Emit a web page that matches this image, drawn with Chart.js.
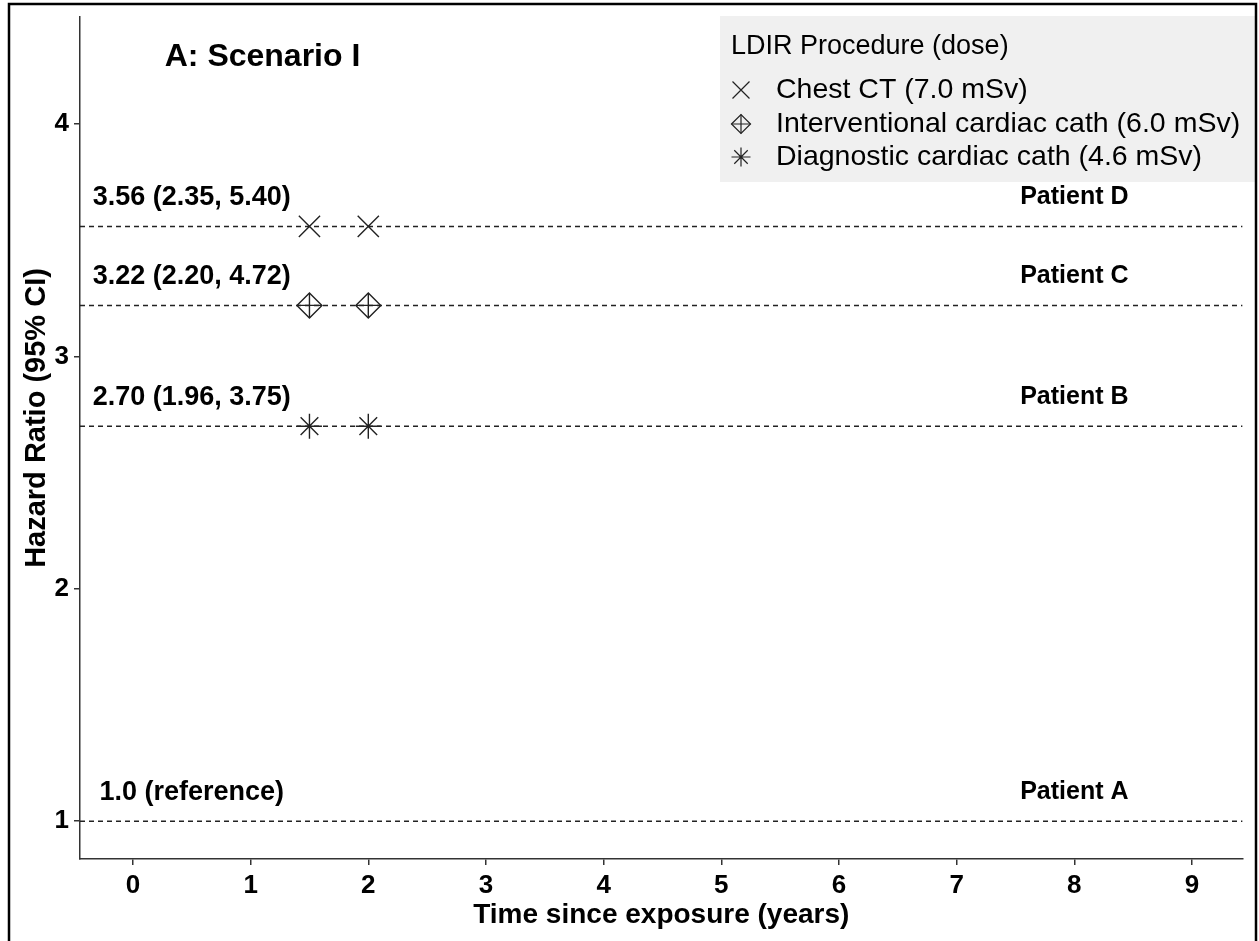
<!DOCTYPE html>
<html>
<head>
<meta charset="utf-8">
<script src="https://cdn.jsdelivr.net/npm/chart.js@4.4.1/dist/chart.umd.min.js"></script>
<style>
  html, body { margin: 0; padding: 0; background: #fff; }
  #wrap { width: 1259px; height: 941px; position: relative; }
</style>
</head>
<body>
<div id="wrap"><canvas id="hr-chart"></canvas></div>
<script>
// data
var exposureTimes = [1.5, 2.0];
var patients = ["Patient A", "Patient B", "Patient C", "Patient D"];
var hazardRatios = [1.0, 2.70, 3.22, 3.56];
var ciLabels = ["1.0 (reference)", "2.70 (1.96, 3.75)", "3.22 (2.20, 4.72)", "3.56 (2.35, 5.40)"];
var procedures = ["Chest CT (7.0 mSv)", "Interventional cardiac cath (6.0 mSv)", "Diagnostic cardiac cath (4.6 mSv)"];
var procedurePatient = [3, 2, 1]; // index into patients for each procedure
var xTicks = [0, 1, 2, 3, 4, 5, 6, 7, 8, 9];
var yTicks = [1, 2, 3, 4];
var xRange = [-0.45, 9.43];
var yRange = [0.837, 4.464];

var FONT = "'Liberation Sans', Arial, sans-serif";
Chart.defaults.font.family = FONT;
Chart.defaults.color = "#000";

var ink = "#222";
var markerStyles = [["crossRot"], ["rectRot", "cross"], ["star"]];
var markerRadius = { crossRot: 15, rectRot: 12.5, cross: 12.5, star: 12.5 };
var legendRadius = { crossRot: 12, rectRot: 9.5, cross: 9.5, star: 9.5 };

var datasets = [];
procedures.forEach(function (name, i) {
  var hr = hazardRatios[procedurePatient[i]];
  markerStyles[i].forEach(function (style) {
    datasets.push({
      type: "scatter",
      label: name,
      data: exposureTimes.map(function (t) { return { x: t, y: hr }; }),
      pointStyle: style,
      pointRadius: markerRadius[style],
      pointHoverRadius: markerRadius[style],
      borderColor: ink,
      backgroundColor: "rgba(0,0,0,0)",
      pointBorderWidth: 1.4,
      showLine: false
    });
  });
});
hazardRatios.forEach(function (hr, i) {
  datasets.push({
    type: "line",
    label: patients[i],
    data: [{ x: xRange[0], y: hr }, { x: xRange[1], y: hr }],
    borderColor: ink,
    borderWidth: 1.5,
    borderDash: [5, 4],
    pointRadius: 0,
    fill: false
  });
});

// text, legend, y title and outer frame
var decorations = {
  id: "decorations",
  afterDatasetsDraw: function (chart) {
    var ctx = chart.ctx, xs = chart.scales.x, ys = chart.scales.y;
    ctx.save();
    ctx.fillStyle = "#000";
    ctx.textBaseline = "middle";
    ctx.textAlign = "center";
    hazardRatios.forEach(function (hr, i) {
      var py = ys.getPixelForValue(hr + 0.125);
      ctx.font = "bold 27px " + FONT;
      ctx.fillText(ciLabels[i], xs.getPixelForValue(0.5), py);
      ctx.font = "bold 25px " + FONT;
      ctx.fillText(patients[i], xs.getPixelForValue(8), py);
    });
    ctx.textAlign = "left";
    ctx.font = "bold 32px " + FONT;
    ctx.fillText("A: Scenario I", xs.getPixelForValue(0.27), ys.getPixelForValue(4.29));

    // y axis title (sits a little above the centre of the axis)
    ctx.save();
    ctx.translate(37, 418);
    ctx.rotate(-Math.PI / 2);
    ctx.textAlign = "center";
    ctx.font = "bold 29px " + FONT;
    ctx.fillText("Hazard Ratio (95% CI)", 0, 0);
    ctx.restore();

    // legend box
    var bx = 720, by = 16, bw = 536, bh = 166;
    ctx.fillStyle = "#f0f0f0";
    ctx.fillRect(bx, by, bw, bh);
    ctx.fillStyle = "#000";
    ctx.font = "27px " + FONT;
    ctx.fillText("LDIR Procedure (dose)", bx + 11, by + 31);
    ctx.font = "28.5px " + FONT;
    var rows = [by + 74, by + 108, by + 141];
    procedures.forEach(function (name, i) {
      ctx.fillStyle = "#000";
      ctx.fillText(name, bx + 56, rows[i]);
      ctx.strokeStyle = ink;
      ctx.fillStyle = "rgba(0,0,0,0)";
      ctx.lineWidth = 1.2;
      markerStyles[i].forEach(function (style) {
        Chart.helpers.drawPoint(ctx, { pointStyle: style, rotation: 0, radius: legendRadius[style], borderWidth: 1.2 }, bx + 21, rows[i]);
      });
    });

    // outer frame
    ctx.strokeStyle = "#000";
    ctx.lineWidth = 2.5;
    ctx.beginPath();
    ctx.moveTo(9, 945);
    ctx.lineTo(9, 4);
    ctx.lineTo(1256, 4);
    ctx.lineTo(1256, 945);
    ctx.stroke();
    ctx.restore();
  }
};

var axisGrid = { display: true, drawOnChartArea: false, drawTicks: true, tickLength: 6, color: "#333", lineWidth: 1.5 };
var axisBorder = { display: true, color: "#333", width: 1.5 };

var myChart = new Chart(document.getElementById("hr-chart").getContext("2d"), {
  type: "scatter",
  data: { datasets: datasets },
  options: {
    responsive: true,
    maintainAspectRatio: false,
    animation: false,
    layout: { padding: { top: 15, right: 10, bottom: 0, left: 0 } },
    plugins: { legend: { display: false }, tooltip: { enabled: false } },
    scales: {
      x: {
        type: "linear",
        min: xRange[0],
        max: xRange[1],
        afterBuildTicks: function (s) { s.ticks = xTicks.map(function (v) { return { value: v }; }); },
        afterFit: function (s) { s.height = 82; s.paddingLeft = 0; s.paddingRight = 0; },
        ticks: { font: { size: 26, weight: "bold" }, color: "#000", padding: 5, autoSkip: false, maxRotation: 0 },
        grid: axisGrid,
        border: axisBorder,
        title: { display: true, text: "Time since exposure (years)", font: { size: 28, weight: "bold" }, color: "#000", padding: { top: 0, bottom: 9 } }
      },
      y: {
        type: "linear",
        min: yRange[0],
        max: yRange[1],
        afterBuildTicks: function (s) { s.ticks = yTicks.map(function (v) { return { value: v }; }); },
        afterFit: function (s) { s.width = 80; s.paddingTop = 0; s.paddingBottom = 0; },
        ticks: { font: { size: 26, weight: "bold" }, color: "#000", padding: 5, autoSkip: false },
        grid: axisGrid,
        border: axisBorder,
        title: { display: false }
      }
    }
  },
  plugins: [decorations]
});
</script>
</body>
</html>
